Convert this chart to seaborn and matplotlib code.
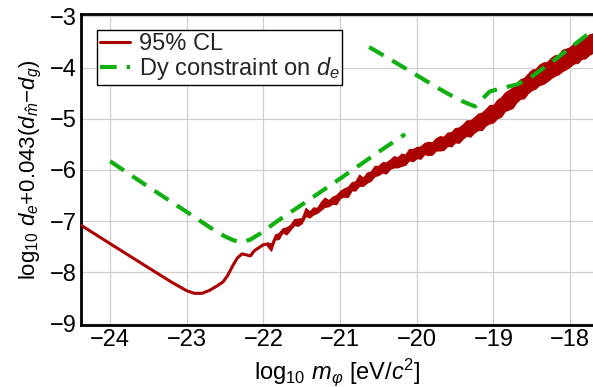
import numpy as np
import matplotlib
matplotlib.use("Agg")
import matplotlib.pyplot as plt
import seaborn as sns

# smooth low-mass part of the 95% CL curve
red_smooth_x = [-24.38, -24.0, -23.5, -23.2, -23.0, -22.9, -22.8, -22.7, -22.6, -22.53,
                -22.47, -22.4, -22.34, -22.28, -22.22, -22.17, -22.12, -22.06, -22.0, -21.95]
red_smooth_y = [-7.08, -7.44, -7.91, -8.19, -8.36, -8.41, -8.41, -8.35, -8.26, -8.19,
                -8.07, -7.87, -7.72, -7.64, -7.66, -7.68, -7.58, -7.52, -7.46, -7.45]

# noisy part: centre and half width of the band
red_band_x = [-21.95, -21.90, -21.85, -21.80, -21.75, -21.70, -21.65, -21.60, -21.55, -21.50,
              -21.45, -21.40, -21.35, -21.30, -21.25, -21.20, -21.15, -21.10, -21.05, -21.00,
              -20.95, -20.90, -20.85, -20.80, -20.75, -20.70, -20.65, -20.60, -20.55, -20.50,
              -20.45, -20.40, -20.35, -20.30, -20.25, -20.20, -20.15, -20.10, -20.05, -20.00,
              -19.95, -19.90, -19.85, -19.80, -19.75, -19.70, -19.65, -19.60, -19.55, -19.50,
              -19.45, -19.40, -19.35, -19.30, -19.25, -19.20, -19.15, -19.10, -19.05, -19.00,
              -18.95, -18.90, -18.85, -18.80, -18.75, -18.70, -18.65, -18.60, -18.55, -18.50,
              -18.45, -18.40, -18.35, -18.30, -18.25, -18.20, -18.15, -18.10, -18.05, -18.00,
              -17.95, -17.90, -17.85, -17.80, -17.75, -17.70]
red_band_mid = [-7.45, -7.51, -7.31, -7.29, -7.18, -7.19, -7.12, -7.02, -7.02, -6.99,
                -6.82, -6.87, -6.80, -6.79, -6.70, -6.63, -6.65, -6.59, -6.58, -6.48,
                -6.44, -6.43, -6.32, -6.31, -6.20, -6.23, -6.15, -6.12, -6.02, -6.01,
                -5.95, -5.96, -5.89, -5.84, -5.85, -5.80, -5.80, -5.70, -5.71, -5.66,
                -5.66, -5.58, -5.58, -5.58, -5.50, -5.48, -5.48, -5.40, -5.40, -5.32,
                -5.32, -5.25, -5.18, -5.19, -5.12, -5.06, -5.05, -4.97, -4.91, -4.90,
                -4.81, -4.77, -4.67, -4.63, -4.59, -4.49, -4.42, -4.40, -4.31, -4.24,
                -4.22, -4.14, -4.11, -4.08, -4.01, -3.96, -3.94, -3.86, -3.83, -3.79,
                -3.72, -3.70, -3.64, -3.62, -3.55, -3.52]
red_band_hw = [0.04, 0.07, 0.05, 0.06, 0.04, 0.07, 0.05, 0.06, 0.07, 0.05,
               0.08, 0.06, 0.07, 0.05, 0.08, 0.09, 0.06, 0.07, 0.09, 0.07,
               0.08, 0.10, 0.08, 0.09, 0.11, 0.08, 0.10, 0.09, 0.10, 0.09,
               0.10, 0.11, 0.09, 0.11, 0.10, 0.12, 0.10, 0.11, 0.12, 0.11,
               0.12, 0.11, 0.13, 0.12, 0.12, 0.14, 0.13, 0.13, 0.14, 0.14,
               0.15, 0.14, 0.15, 0.16, 0.15, 0.16, 0.17, 0.16, 0.18, 0.17,
               0.18, 0.19, 0.18, 0.19, 0.20, 0.19, 0.19, 0.20, 0.19, 0.20,
               0.19, 0.20, 0.21, 0.19, 0.20, 0.20, 0.19, 0.21, 0.20, 0.19,
               0.20, 0.21, 0.19, 0.20, 0.20, 0.19]

# Dy constraint on d_e, two pieces
dy_low_x = [-24.0, -23.5, -23.0, -22.7, -22.5, -22.38, -22.27, -22.17, -22.05, -21.8,
            -21.5, -21.0, -20.5, -20.15]
dy_low_y = [-5.83, -6.33, -6.82, -7.12, -7.3, -7.38, -7.41, -7.36, -7.25, -6.98,
            -6.68, -6.17, -5.65, -5.3]
dy_high_x = [-20.62, -20.3, -20.0, -19.7, -19.45, -19.24, -19.05, -18.91, -18.69, -18.52,
             -18.2, -17.7]
dy_high_y = [-3.6, -3.88, -4.15, -4.42, -4.63, -4.76, -4.47, -4.41, -4.33, -4.2,
             -3.85, -3.27]

x_ticks = [-24, -23, -22, -21, -20, -19, -18]
y_ticks = [-9, -8, -7, -6, -5, -4, -3]

RED = "#aa0000"
GREEN = "#11b011"

sns.set_theme(style="whitegrid")
plt.rcParams['font.family'] = ['Liberation Sans', 'DejaVu Sans']
plt.rcParams['mathtext.fontset'] = 'custom'
plt.rcParams['mathtext.rm'] = 'Liberation Sans'
plt.rcParams['mathtext.it'] = 'Liberation Sans:italic'
plt.rcParams['mathtext.bf'] = 'Liberation Sans:bold'

fig = plt.figure(figsize=(5.93, 3.87), dpi=100)
ax = fig.add_axes([0.1366, 0.160, 0.8634, 0.803])

mid = np.array(red_band_mid)
hw = np.array(red_band_hw)
ax.fill_between(red_band_x, mid - hw, mid + hw, color=RED, linewidth=0.8, zorder=3)
sns.lineplot(x=red_smooth_x, y=red_smooth_y, ax=ax, color=RED, linewidth=2.2,
             sort=False, label="95% CL", zorder=3)
sns.lineplot(x=dy_low_x, y=dy_low_y, ax=ax, color=GREEN, linewidth=3,
             sort=False, linestyle=(0, (4, 2.4)), label=r"Dy constraint on $d_e$", zorder=4)
sns.lineplot(x=dy_high_x, y=dy_high_y, ax=ax, color=GREEN, linewidth=3,
             sort=False, linestyle=(0, (4, 2.4)), zorder=4)

ax.set_xlim(-24.38, -17.7)
ax.set_ylim(-9.03, -2.96)
ax.set_xticks(x_ticks)
ax.set_yticks(y_ticks)
ax.set_xticklabels([f"\u2212{abs(t)}" for t in x_ticks])
ax.set_yticklabels([f"\u2212{abs(t)}" for t in y_ticks])
ax.tick_params(axis='both', direction='in', length=4, width=1.5, labelsize=17,
               color='black', labelcolor='black', pad=3)
ax.grid(True, color='#cfcfcf', linewidth=0.9)
ax.set_facecolor('white')
for side in ['left', 'bottom', 'top']:
    ax.spines[side].set_color('black')
    ax.spines[side].set_linewidth(2)
ax.spines['right'].set_visible(False)

ax.set_xlabel(r"log$_{10}$ $m_\varphi$ [eV/$c^2$]", fontsize=17, color='black', labelpad=4)
ax.set_ylabel(r"log$_{10}$ $d_e$+0.043($d_{\hat{m}}$$-$$d_g$)", fontsize=16,
              color='black', labelpad=4)

leg = ax.legend(loc='upper left', bbox_to_anchor=(0.031, 0.949), fontsize=17,
                frameon=True, fancybox=False, framealpha=1, edgecolor='black',
                handlelength=1.3, handletextpad=0.35, labelspacing=0.0,
                borderpad=0.12, borderaxespad=0)
leg.get_frame().set_linewidth(1)

fig.savefig("out.png", dpi=100)
